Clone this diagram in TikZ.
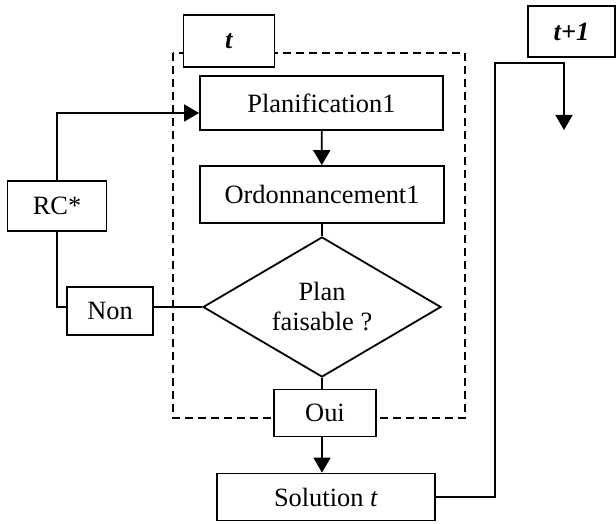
\documentclass[tikz,border=0pt]{standalone}
\usepackage{fontspec}
\setmainfont{Liberation Serif}
\usetikzlibrary{shapes.geometric,arrows.meta}

\tikzset{
    box/.style={draw, line width=0.9pt, fill=white, inner sep=0pt, font=\fontsize{13.2}{15}\selectfont},
    decision/.style={box, diamond, aspect=1.7, align=center},
    link/.style={line width=0.9pt},
    arrow/.style={link, -{Triangle[width=8.5pt,length=7.5pt]}}
}

\begin{document}
\begin{tikzpicture}[x=0.5pt, y=-0.5pt]
    \useasboundingbox (0,0) rectangle (616,524);

    % time window t
    \draw[link, dash pattern=on 4pt off 2.5pt] (173,53) rectangle (465,418);

    \node[box, minimum width=45.5pt, minimum height=26pt] (tstep) at (229,41) {\textbf{\textit{t}}};
    \node[box, minimum width=43.5pt, minimum height=25.5pt] (tnextstep) at (571.5,31.5) {\textbf{\textit{t+1}}};

    \node[box, minimum width=121.5pt, minimum height=27pt] (planif) at (321.5,103) {Planification1};
    \node[box, minimum width=122pt, minimum height=28.5pt] (ordo) at (322,194.5) {Ordonnancement1};
    \node[decision, minimum width=119pt, minimum height=70pt] (faisable) at (322,307) {Plan\\faisable ?};
    \node[box, minimum width=51pt, minimum height=23.5pt] (oui) at (325,413) {Oui};
    \node[box, minimum width=109pt, minimum height=23.5pt] (solution) at (326,497) {Solution \textit{t}};

    \node[box, minimum width=49.5pt, minimum height=25pt] (rc) at (57,206) {RC*};
    \node[box, minimum width=43pt, minimum height=24pt] (non) at (110,311) {Non};

    \coordinate (corner) at (495,63);
    \coordinate (tnext) at (564,130);

    % main flow
    \draw[arrow] (planif) -- (ordo);
    \draw[link] (ordo) -- (faisable);
    \draw[link] (faisable.south) -- (oui.north -| faisable.south);
    \draw[arrow] (oui.south -| faisable.south) -- (solution.north -| faisable.south);

    % loop back
    \draw[link] (faisable.west) -- (faisable.west -| non.east);
    \draw[link] (faisable.west -| non.west) -| (rc.south);
    \draw[arrow] (rc.north) |- ([yshift=-5pt]planif.west);

    % next step
    \draw[arrow] (solution.east) -| (corner) -| (tnext);
\end{tikzpicture}
\end{document}
